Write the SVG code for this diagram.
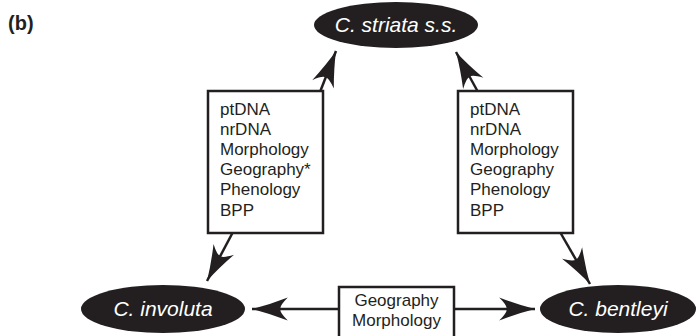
<svg xmlns="http://www.w3.org/2000/svg" width="699" height="336" viewBox="0 0 699 336">
<style>
.ell{fill:#231f20}
.elabel{font-family:"Liberation Sans",Arial,sans-serif;font-style:italic;font-size:21px;fill:#ffffff;text-anchor:middle}
.box{fill:#ffffff;stroke:#231f20;stroke-width:2.5}
.btext{font-family:"Liberation Sans",Arial,sans-serif;font-size:17px;fill:#231f20}
.conn{stroke:#231f20;stroke-width:2.5;fill:none;marker-end:url(#ah)}
</style>
<defs>
<marker id="ah" markerUnits="userSpaceOnUse" markerWidth="40" markerHeight="30" viewBox="-36 -13 38 26" refX="0" refY="0" orient="auto">
<path d="M0,0 Q-16,-4 -34,-11 Q-26,-3 -27,0 Q-26,3 -34,11 Q-16,4 0,0 Z" fill="#231f20"/>
</marker>
</defs>
<text x="8" y="30" font-family="Liberation Sans,Arial,sans-serif" font-weight="bold" font-size="20" fill="#231f20">(b)</text>
<g id="connectors">
<line class="conn" x1="320" y1="92" x2="336" y2="51"/>
<line class="conn" x1="233" y1="232" x2="207" y2="281"/>
<line class="conn" x1="478" y1="92" x2="456" y2="52"/>
<line class="conn" x1="560" y1="232" x2="590" y2="284"/>
<line class="conn" x1="339" y1="309" x2="252" y2="309"/>
<line class="conn" x1="454" y1="309" x2="535" y2="309"/>
</g>
<g id="striata">
<ellipse class="ell" cx="396" cy="25" rx="82" ry="23"/>
<text class="elabel" x="396" y="32">C. striata s.s.</text>
</g>
<g id="involuta">
<ellipse class="ell" cx="163" cy="309" rx="82" ry="24"/>
<text class="elabel" x="163" y="316">C. involuta</text>
</g>
<g id="bentleyi">
<ellipse class="ell" cx="618" cy="309" rx="78" ry="24"/>
<text class="elabel" x="618" y="316">C. bentleyi</text>
</g>
<g id="box-left">
<rect class="box" x="208" y="91" width="115" height="142"/>
<text class="btext" x="220" y="115">ptDNA</text>
<text class="btext" x="220" y="135">nrDNA</text>
<text class="btext" x="220" y="155">Morphology</text>
<text class="btext" x="220" y="175">Geography*</text>
<text class="btext" x="220" y="195">Phenology</text>
<text class="btext" x="220" y="216">BPP</text>
</g>
<g id="box-right">
<rect class="box" x="458" y="91" width="115" height="142"/>
<text class="btext" x="470" y="115">ptDNA</text>
<text class="btext" x="470" y="135">nrDNA</text>
<text class="btext" x="470" y="155">Morphology</text>
<text class="btext" x="470" y="175">Geography</text>
<text class="btext" x="470" y="195">Phenology</text>
<text class="btext" x="470" y="216">BPP</text>
</g>
<g id="box-bottom">
<rect class="box" x="339" y="287" width="115" height="60"/>
<text class="btext" x="396.5" y="306" text-anchor="middle">Geography</text>
<text class="btext" x="396.5" y="326" text-anchor="middle">Morphology</text>
</g>
</svg>
